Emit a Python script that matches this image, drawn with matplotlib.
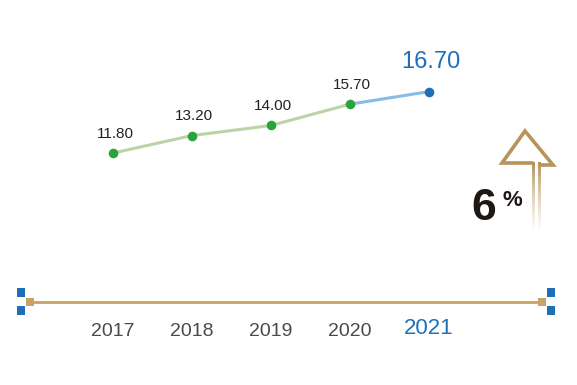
import matplotlib
matplotlib.use("Agg")
import matplotlib.pyplot as plt
import matplotlib.transforms as mtransforms
from matplotlib.colors import to_rgba
import numpy as np

plt.rcParams['font.family'] = ['Liberation Sans', 'DejaVu Sans']

years = ["2017", "2018", "2019", "2020", "2021"]
values = [11.80, 13.20, 14.00, 15.70, 16.70]
labels = ["11.80", "13.20", "14.00", "15.70", "16.70"]
growth_label = "6"
pct_label = "%"

W, H = 577, 385
fig = plt.figure(figsize=(W / 100, H / 100), dpi=100)

# overlay axes in pixel coordinates for decorations
deco = fig.add_axes([0, 0, 1, 1])
deco.axis('off')

ax = fig.add_axes([0, 0, 1, 1], facecolor='none')
ax.set_xlim(-1.430, 5.873)
ax.set_ylim(-6.68, 24.00)
ax.axis('off')

x = np.arange(len(years))
green_line = '#bcd3a6'
blue_line = '#86bde8'
green = '#2aa33a'
blue = '#1f6fb8'
tan = '#c9a266'

# lines
ax.plot(x[:4], values[:4], color=green_line, lw=2.2, solid_capstyle='round', zorder=2)
ax.plot(x[3:], values[3:], color=blue_line, lw=2.2, solid_capstyle='round', zorder=2)
# markers
ax.scatter(x[:4], values[:4], s=48, color=green, zorder=3, linewidths=0)
ax.scatter(x[4:], values[4:], s=48, color=blue, zorder=3, linewidths=0)

# value labels
for i, (xi, v, lab) in enumerate(zip(x, values, labels)):
    if i == len(x) - 1:
        ax.annotate(lab, (xi, v), xytext=(1.5, 21), textcoords='offset points',
                    ha='center', va='center', fontsize=17, color=blue)
    else:
        ax.annotate(lab, (xi, v), xytext=(1.5, 14), textcoords='offset points',
                    ha='center', va='center', fontsize=11, color='#222222')

# axis line with decorations
deco.plot([30, 542], [302, 302], color=tan, lw=2, zorder=1)
for (sx, sy, c) in [(29.5, 302, tan), (542, 302, tan),
                    (21, 292.5, blue), (21, 310.5, blue),
                    (551, 292.5, blue), (551, 310.5, blue)]:
    deco.add_patch(plt.Rectangle((sx - 4, sy - 4.3), 8, 8.6, color=c, lw=0, zorder=2))

# growth arrow (hollow outline, fading tail)
gold = '#b8935a'
head = [(533.5, 163), (502, 163), (525, 131), (553, 165), (539.5, 165)]
deco.plot([p[0] for p in head], [p[1] for p in head], color=gold, lw=2.6,
          solid_joinstyle='miter', solid_capstyle='butt', zorder=3)
n = 120
grad = np.zeros((n, 1, 4))
grad[:, 0, :3] = to_rgba(gold)[:3]
grad[:, 0, 3] = np.linspace(1, 0, n) ** 1.3
for sx in (533.5, 539.5):
    deco.imshow(grad, extent=(sx - 1.2, sx + 1.2, 234, 162), origin='upper',
                aspect='auto', interpolation='bilinear', zorder=3)

deco.set_xlim(0, W)
deco.set_ylim(H, 0)

# year labels
trans = mtransforms.blended_transform_factory(ax.transData, deco.transData)
for i, (xi, yr) in enumerate(zip(x, years)):
    if i == len(x) - 1:
        ax.text(xi, 334, yr, transform=trans, ha='center', va='baseline',
                fontsize=16, color=blue)
    else:
        ax.text(xi, 336, yr, transform=trans, ha='center', va='baseline',
                fontsize=14, color='#4a4a4a')

deco.text(484, 220, growth_label, ha='center', va='baseline', fontsize=32,
          fontweight='bold', color='#1e1714')
deco.text(512, 206, pct_label, ha='center', va='baseline', fontsize=16,
          fontweight='bold', color='#1e1714')

fig.savefig('out.png', dpi=100)
